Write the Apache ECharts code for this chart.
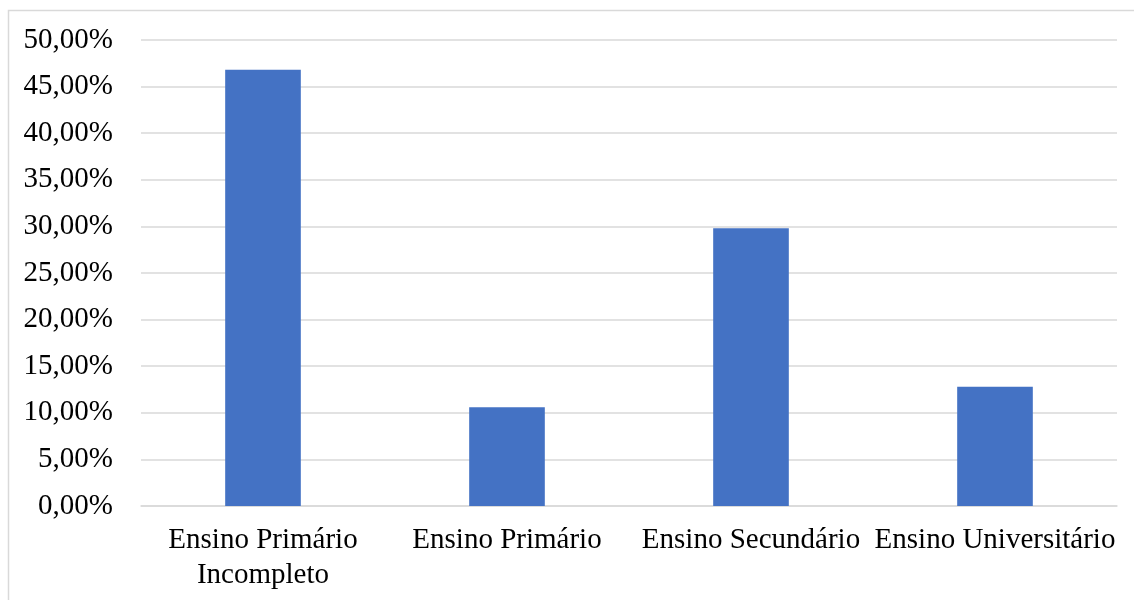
<!DOCTYPE html>
<html>
<head>
<meta charset="utf-8">
<script src="https://cdn.jsdelivr.net/npm/echarts@6/dist/echarts.min.js"></script>
<style>
  html, body { margin: 0; padding: 0; background: #fff; }
  #chart { width: 1134px; height: 600px; }
</style>
</head>
<body>
<div id="chart"></div>
<script>
// Escolaridade: percentagem por nível de ensino
const categories = [
  'Ensino Primário\nIncompleto',
  'Ensino Primário',
  'Ensino Secundário',
  'Ensino Universitário'
];
const values = [46.8, 10.6, 29.8, 12.8];
const yTicks = { min: 0, max: 50, interval: 5 };

const chart = echarts.init(document.getElementById('chart'), null, { renderer: 'canvas' });

const font = '"Liberation Serif", "Times New Roman", serif';

chart.setOption({
  animation: false,
  backgroundColor: '#ffffff',
  graphic: [{
    type: 'rect',
    shape: { x: 8.5, y: 10.5, width: 1140, height: 600 },
    style: { fill: 'none', stroke: '#d9d9d9', lineWidth: 1.5 },
    silent: true
  }],
  grid: { left: 141, right: 17, top: 40, bottom: 94 },
  xAxis: {
    type: 'category',
    data: categories,
    axisLine: { show: true, lineStyle: { color: '#d9d9d9', width: 1.5 } },
    axisTick: { show: false },
    axisLabel: {
      color: '#000',
      fontFamily: font,
      fontSize: 29,
      lineHeight: 35,
      margin: 17,
      interval: 0
    }
  },
  yAxis: {
    type: 'value',
    min: yTicks.min,
    max: yTicks.max,
    interval: yTicks.interval,
    axisLine: { show: false },
    axisTick: { show: false },
    splitLine: { lineStyle: { color: '#d9d9d9', width: 1.5 } },
    axisLabel: {
      color: '#000',
      fontFamily: font,
      fontSize: 29,
      margin: 28,
      formatter: v => v.toFixed(2).replace('.', ',') + '%'
    }
  },
  series: [{
    type: 'bar',
    data: values,
    barWidth: '31%',
    itemStyle: { color: '#4472c4' }
  }]
});
</script>
</body>
</html>
